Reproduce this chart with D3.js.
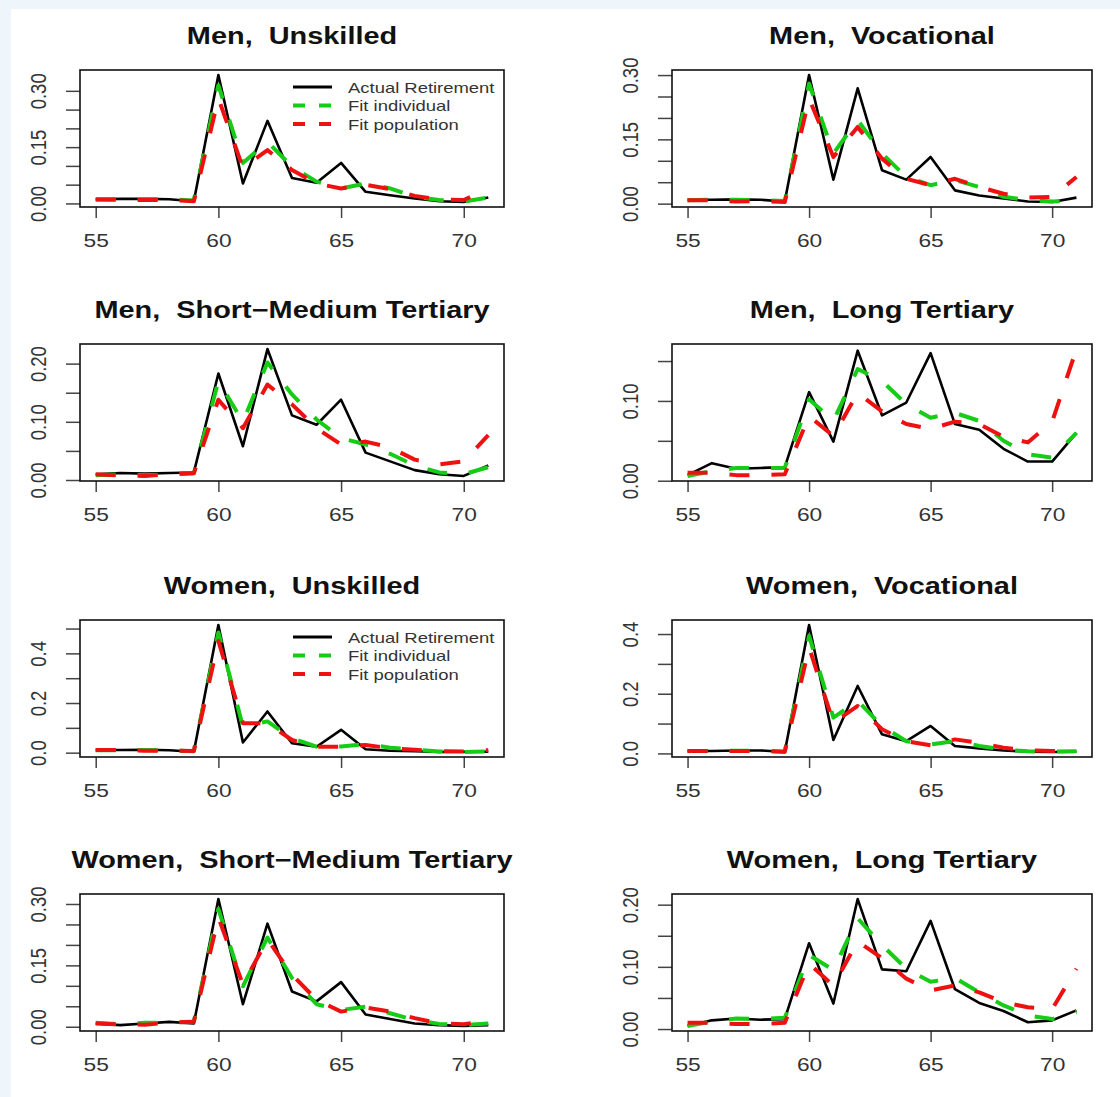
<!DOCTYPE html>
<html>
<head>
<meta charset="utf-8">
<script src="https://cdn.jsdelivr.net/npm/d3@7"></script>
<style>
  body { margin: 0; background: #eef6fc; }
  svg { display: block; font-family: "Liberation Sans", Arial, sans-serif; }
</style>
</head>
<body>
<div id="chart"></div>
<script>
// Data: retirement age distributions, ages 55..71
const ages = [55, 56, 57, 58, 59, 60, 61, 62, 63, 64, 65, 66, 67, 68, 69, 70, 71];
const xTickValues = [55, 60, 65, 70];

const menUnskilledActual = [0.011, 0.012, 0.012, 0.011, 0.006, 0.342, 0.053, 0.220, 0.068, 0.055, 0.108, 0.031, 0.022, 0.013, 0.006, 0.004, 0.016];
const menUnskilledIndiv  = [0.010, 0.010, 0.012, 0.011, 0.008, 0.315, 0.108, 0.164, 0.098, 0.058, 0.040, 0.053, 0.040, 0.018, 0.009, 0.005, 0.016];
const menUnskilledPop    = [0.011, 0.010, 0.009, 0.009, 0.006, 0.280, 0.095, 0.142, 0.089, 0.053, 0.040, 0.050, 0.038, 0.020, 0.011, 0.009, 0.040];

const menVocActual = [0.009, 0.009, 0.010, 0.009, 0.005, 0.300, 0.056, 0.269, 0.078, 0.056, 0.109, 0.031, 0.019, 0.012, 0.005, 0.004, 0.014];
const menVocIndiv  = [0.008, 0.009, 0.009, 0.008, 0.006, 0.280, 0.117, 0.195, 0.117, 0.062, 0.043, 0.055, 0.039, 0.016, 0.008, 0.005, 0.007];
const menVocPop    = [0.008, 0.008, 0.005, 0.006, 0.004, 0.245, 0.109, 0.179, 0.105, 0.058, 0.043, 0.058, 0.039, 0.023, 0.014, 0.016, 0.062];

const menSMTActual = [0.010, 0.012, 0.011, 0.012, 0.013, 0.183, 0.058, 0.225, 0.111, 0.095, 0.138, 0.047, 0.032, 0.017, 0.010, 0.007, 0.025];
const menSMTIndiv  = [0.008, 0.010, 0.008, 0.010, 0.011, 0.170, 0.100, 0.202, 0.147, 0.104, 0.072, 0.061, 0.045, 0.025, 0.013, 0.010, 0.022];
const menSMTPop    = [0.010, 0.008, 0.007, 0.010, 0.012, 0.138, 0.089, 0.164, 0.130, 0.089, 0.061, 0.066, 0.056, 0.035, 0.027, 0.032, 0.077];

const menLTActual = [0.007, 0.022, 0.015, 0.016, 0.017, 0.111, 0.049, 0.163, 0.082, 0.098, 0.160, 0.071, 0.064, 0.040, 0.024, 0.024, 0.060];
const menLTIndiv  = [0.006, 0.012, 0.016, 0.016, 0.016, 0.102, 0.075, 0.140, 0.125, 0.096, 0.079, 0.085, 0.075, 0.050, 0.033, 0.029, 0.060];
const menLTPop    = [0.010, 0.010, 0.007, 0.007, 0.008, 0.081, 0.056, 0.110, 0.087, 0.071, 0.065, 0.074, 0.071, 0.055, 0.048, 0.074, 0.165];

const womenUnskilledActual = [0.011, 0.011, 0.012, 0.010, 0.004, 0.514, 0.041, 0.166, 0.038, 0.024, 0.092, 0.014, 0.008, 0.006, 0.003, 0.004, 0.004];
const womenUnskilledIndiv  = [0.010, 0.010, 0.011, 0.009, 0.006, 0.484, 0.105, 0.126, 0.058, 0.024, 0.025, 0.035, 0.020, 0.012, 0.005, 0.003, 0.005];
const womenUnskilledPop    = [0.011, 0.011, 0.008, 0.008, 0.007, 0.450, 0.119, 0.119, 0.051, 0.024, 0.024, 0.031, 0.018, 0.012, 0.006, 0.005, 0.010];

const womenVocActual = [0.008, 0.008, 0.010, 0.010, 0.005, 0.430, 0.045, 0.226, 0.064, 0.041, 0.092, 0.025, 0.017, 0.010, 0.006, 0.005, 0.006];
const womenVocIndiv  = [0.008, 0.008, 0.009, 0.009, 0.006, 0.394, 0.120, 0.176, 0.092, 0.041, 0.030, 0.041, 0.025, 0.013, 0.007, 0.006, 0.007];
const womenVocPop    = [0.008, 0.008, 0.008, 0.008, 0.006, 0.355, 0.103, 0.159, 0.081, 0.041, 0.027, 0.047, 0.036, 0.019, 0.010, 0.008, 0.006];

const womenSMTActual = [0.008, 0.004, 0.008, 0.012, 0.008, 0.312, 0.055, 0.252, 0.086, 0.062, 0.109, 0.030, 0.019, 0.008, 0.004, 0.002, 0.004];
const womenSMTIndiv  = [0.010, 0.006, 0.010, 0.010, 0.013, 0.288, 0.099, 0.218, 0.119, 0.055, 0.041, 0.049, 0.033, 0.016, 0.007, 0.004, 0.008];
const womenSMTPop    = [0.008, 0.006, 0.005, 0.010, 0.012, 0.267, 0.103, 0.214, 0.127, 0.066, 0.037, 0.047, 0.037, 0.021, 0.008, 0.006, 0.016];

const womenLTActual = [0.005, 0.014, 0.017, 0.015, 0.016, 0.138, 0.041, 0.209, 0.096, 0.093, 0.174, 0.064, 0.042, 0.029, 0.011, 0.014, 0.030];
const womenLTIndiv  = [0.005, 0.012, 0.017, 0.016, 0.018, 0.119, 0.095, 0.178, 0.135, 0.097, 0.076, 0.082, 0.059, 0.038, 0.022, 0.016, 0.028];
const womenLTPop    = [0.010, 0.010, 0.008, 0.008, 0.010, 0.105, 0.070, 0.141, 0.114, 0.081, 0.062, 0.070, 0.059, 0.043, 0.035, 0.032, 0.097];

const titles = [
  "Men,  Unskilled", "Men,  Vocational",
  "Men,  Short\u2212Medium Tertiary", "Men,  Long Tertiary",
  "Women,  Unskilled", "Women,  Vocational",
  "Women,  Short\u2212Medium Tertiary", "Women,  Long Tertiary"
];
const yTicks = [
  [0, 0.05, 0.10, 0.15, 0.20, 0.25, 0.30], [0, 0.05, 0.10, 0.15, 0.20, 0.25, 0.30],
  [0, 0.05, 0.10, 0.15, 0.20], [0, 0.05, 0.10, 0.15],
  [0, 0.1, 0.2, 0.3, 0.4, 0.5], [0, 0.1, 0.2, 0.3, 0.4],
  [0, 0.05, 0.10, 0.15, 0.20, 0.25, 0.30], [0, 0.05, 0.10, 0.15, 0.20]
];
const yLabels = [
  ["0.00", "0.15", "0.30"], ["0.00", "0.15", "0.30"],
  ["0.00", "0.10", "0.20"], ["0.00", "0.10"],
  ["0.0", "0.2", "0.4"], ["0.0", "0.2", "0.4"],
  ["0.00", "0.15", "0.30"], ["0.00", "0.10", "0.20"]
];
const legendLabels = ["Actual Retirement", "Fit individual", "Fit population"];
const legendPanels = [0, 4];

const series = [
  [menUnskilledActual, menUnskilledIndiv, menUnskilledPop],
  [menVocActual, menVocIndiv, menVocPop],
  [menSMTActual, menSMTIndiv, menSMTPop],
  [menLTActual, menLTIndiv, menLTPop],
  [womenUnskilledActual, womenUnskilledIndiv, womenUnskilledPop],
  [womenVocActual, womenVocIndiv, womenVocPop],
  [womenSMTActual, womenSMTIndiv, womenSMTPop],
  [womenLTActual, womenLTIndiv, womenLTPop]
];

// Styles
const colors = ["#000000", "#16cc16", "#ee1111"];
const widths = [2.6, 4, 4];
const dashes = [null, "20,22", "20,22"];
const SX = 1.23; // the picture is stretched horizontally

// Layout
const width = 1120, height = 1097;
const cols = [{ x0: 80, x1: 504 }, { x0: 672, x1: 1092 }];
const rowTops = [70, 344, 620, 894];
const boxH = 137;

const svg = d3.select("#chart").append("svg")
  .attr("width", width).attr("height", height);

svg.append("rect").attr("x", 11).attr("y", 9)
  .attr("width", width - 11).attr("height", height - 9).attr("fill", "#ffffff");

series.forEach((s, i) => {
  const col = cols[i % 2];
  const top = rowTops[Math.floor(i / 2)];
  const bottom = top + boxH;

  const xPad = (71 - 55) * 0.04;
  const xScale = d3.scaleLinear()
    .domain([55 - xPad, 71 + xPad])
    .range([col.x0, col.x1]);

  const allVals = s.flat();
  const [yMin, yMax] = d3.extent(allVals);
  const yPad = (yMax - yMin) * 0.04;
  const yScale = d3.scaleLinear()
    .domain([yMin - yPad, yMax + yPad])
    .range([bottom, top]);

  const g = svg.append("g");

  // Title
  g.append("text")
    .attr("transform", `translate(${(col.x0 + col.x1) / 2},${top - 26}) scale(${SX},1)`)
    .attr("text-anchor", "middle")
    .style("white-space", "pre")
    .attr("font-size", 23.5)
    .attr("font-weight", "bold")
    .attr("fill", "#111")
    .text(titles[i]);

  // Lines
  const line = d3.line()
    .x((d, j) => xScale(ages[j]))
    .y((d) => yScale(d));

  s.forEach((vals, k) => {
    g.append("path")
      .datum(vals)
      .attr("d", line)
      .attr("fill", "none")
      .attr("stroke", colors[k])
      .attr("stroke-width", widths[k])
      .attr("stroke-dasharray", dashes[k])
      .attr("stroke-linejoin", "round");
  });

  // Axes
  const xAxis = d3.axisBottom(xScale)
    .tickValues(xTickValues)
    .tickSize(11)
    .tickPadding(16);
  const xAxisG = g.append("g")
    .attr("transform", `translate(0,${bottom})`)
    .call(xAxis);
  xAxisG.select(".domain").remove();
  xAxisG.selectAll(".tick line").attr("stroke", "#444").attr("stroke-width", 1.5);
  xAxisG.selectAll(".tick text")
    .attr("transform", `scale(${SX},1)`)
    .attr("font-size", 18.5)
    .attr("font-family", "Liberation Sans, Arial, sans-serif")
    .attr("fill", "#333");

  const fmt = yLabels[i][0].length === 4 ? d3.format(".2f") : d3.format(".1f");
  const yAxis = d3.axisLeft(yScale)
    .tickValues(yTicks[i])
    .tickSize(14)
    .tickFormat((d) => (yLabels[i].includes(fmt(d)) ? fmt(d) : ""));
  const yAxisG = g.append("g")
    .attr("transform", `translate(${col.x0},0)`)
    .call(yAxis);
  yAxisG.select(".domain").remove();
  yAxisG.selectAll(".tick line").attr("stroke", "#444").attr("stroke-width", 1.5);
  yAxisG.selectAll(".tick text")
    .attr("x", 0).attr("y", 0).attr("dy", "0.36em")
    .attr("text-anchor", "middle")
    .attr("transform", `translate(-42,0) scale(${SX},1) rotate(-90)`)
    .attr("font-size", 18.5)
    .attr("font-family", "Liberation Sans, Arial, sans-serif")
    .attr("fill", "#333");

  // Box
  g.append("rect")
    .attr("x", col.x0).attr("y", top)
    .attr("width", col.x1 - col.x0).attr("height", boxH)
    .attr("fill", "none").attr("stroke", "#111").attr("stroke-width", 1.6);

  // Legend
  if (legendPanels.includes(i)) {
    legendLabels.forEach((lab, k) => {
      const ly = top + 17 + k * 18.5;
      g.append("line")
        .attr("x1", 293).attr("x2", 332)
        .attr("y1", ly).attr("y2", ly)
        .attr("stroke", colors[k])
        .attr("stroke-width", k === 0 ? 3 : 4)
        .attr("stroke-dasharray", k === 0 ? null : "12,14");
      g.append("text")
        .attr("transform", `translate(348,${ly + 5.5}) scale(${SX},1)`)
        .attr("font-size", 15)
        .attr("fill", "#333")
        .text(lab);
    });
  }
});
</script>
</body>
</html>
